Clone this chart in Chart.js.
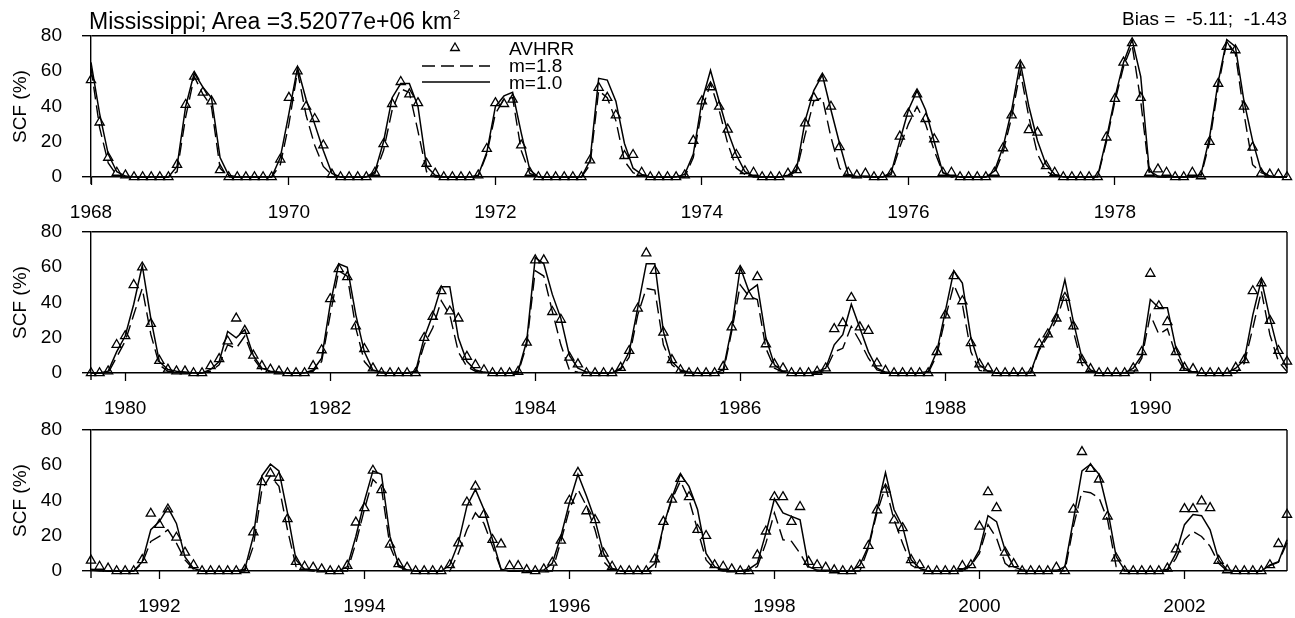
<!DOCTYPE html>
<html>
<head>
<meta charset="utf-8">
<script src="https://cdn.jsdelivr.net/npm/chart.js@4.4.1/dist/chart.umd.min.js"></script>
<style>
  body { margin: 0; background: #fff; }
  #fig { position: relative; width: 1295px; height: 618px; font-family: "Liberation Sans", Arial, sans-serif; color: #000; }
  .panel { position: absolute; left: 0; width: 1295px; height: 224px; }
  #title { position: absolute; left: 89px; top: 10px; font-size: 23px; line-height: 23px; white-space: pre; }
  #title sup { font-size: 13px; vertical-align: baseline; position: relative; top: -10px; margin-left: 1px; }
  #bias { position: absolute; right: 8px; top: 9px; font-size: 19px; line-height: 19px; white-space: pre; }
</style>
</head>
<body>
<div id="fig">
  <div class="panel" style="top:0"><canvas id="p1"></canvas></div>
  <div class="panel" style="top:196px"><canvas id="p2"></canvas></div>
  <div class="panel" style="top:394px"><canvas id="p3"></canvas></div>
  <div id="title">Mississippi; Area =3.52077e+06 km<sup>2</sup></div>
  <div id="bias">Bias =  -5.11;  -1.43</div>
</div>
<script>
// series names
const seriesNames = ['AVHRR', 'm=1.8', 'm=1.0'];

// Panel 1: Jan 1968 .. Aug 1979 (monthly)
const p1Avhrr = [55, 31, 11, 2.5, 1, 0, 0, 0, 0, 0,
  7, 41, 57, 48, 43, 4, 0, 0, 0, 0,
  0, 0, 10, 45, 60, 40, 33, 18, 1.5, 0,
  0, 0, 0, 2.5, 18.7, 41.5, 54, 47, 42, 7.6,
  2, 0, 0, 0, 0, 1, 16, 42, 41.5, 44,
  18, 2.5, 0, 0, 0, 0, 0, 0, 9.5, 50.7,
  45, 35, 12, 12.6, 2.5, 0, 0, 0, 0, 1,
  20.6, 43, 51, 40, 27, 12.6, 3.4, 2.5, 0, 0,
  0, 2, 4, 30.5, 45, 56, 40, 17, 2.5, 1,
  2, 0, 0, 2, 23, 36, 47, 33, 21.5, 2.5,
  2.5, 0, 0, 0, 0, 2.5, 16.4, 35, 63.4, 26.7,
  25.3, 6.3, 2.5, 0, 0, 0, 0, 0, 22.5, 44.4,
  65, 76, 45, 2.5, 4.4, 2.5, 0, 0, 2.5, 0.5,
  20, 53, 74, 72, 40, 16.8, 2, 1.5, 1.5, 0];
const p1M18 = [62, 28, 8, 1, 0, 0, 0, 0, 0, 0,
  3, 34, 57, 47, 40, 5, 0, 0, 0, 0,
  0, 0, 7, 30, 60, 35, 18, 6, 1, 0,
  0, 0, 0, 2, 15, 38, 50, 48, 26, 3,
  0, 0, 0, 0, 0, 0.5, 13, 36, 44, 45,
  15, 2, 0, 0, 0, 0, 0, 0, 7, 49,
  45, 32, 9, 2.5, 0.5, 0, 0, 0, 0, 0,
  11, 38, 53, 38, 19, 5, 1.5, 0, 0, 0,
  0, 0.5, 3.4, 24, 43, 45, 22.5, 5, 0.5, 0,
  0, 0, 0, 1.5, 17, 30, 40, 30, 15, 2.5,
  0, 0, 0, 0, 0, 2, 14, 34, 60, 34,
  13, 3.4, 0.5, 0, 0, 0, 0, 0, 19.6, 43,
  62.5, 75, 43, 1.5, 0, 0, 0, 0, 0, 0.5,
  19.6, 51, 77, 70, 36, 7, 2.5, 0.5, 0, 0];
const p1M10 = [65, 36, 13, 3, 0.5, 0, 0, 0, 0, 0,
  6, 40, 59, 51, 45, 11, 1, 0, 0, 0,
  0, 0, 11, 36, 62, 44, 30, 15, 2, 0,
  0, 0, 0, 3, 20, 45, 53, 53, 40, 6,
  1, 0, 0, 0, 0, 1, 14, 40, 46, 48,
  25, 4, 0, 0, 0, 0, 0, 0, 9.5, 56,
  55, 43, 19, 5, 1.5, 0, 0, 0, 0, 1.5,
  13, 43, 60.6, 43, 26, 12.6, 3, 0.5, 0, 0,
  0, 1, 4.4, 32, 49, 58, 38, 19, 1.5, 0.3,
  0.3, 0, 0, 2.5, 20.6, 38, 49, 38, 20, 2.5,
  0.5, 0, 0, 0, 0, 3.4, 17, 38, 65, 40,
  20.6, 7, 1.5, 0, 0, 0, 0, 0.5, 21.5, 45,
  65, 78, 57, 3.4, 0.5, 0, 0, 0, 0, 1.5,
  22.5, 54, 78, 74, 43, 20.6, 3.4, 0.5, 0, 0];
const p1Ticks = [0, 23, 47, 71, 95, 119];
const p1Years = ['1968', '1970', '1972', '1974', '1976', '1978'];

// Panel 2: Sep 1979 .. May 1991
const p2Avhrr = [0, 0, 1, 16, 21, 50, 60, 28, 7, 2,
  1, 1, 0, 0, 4, 8, 18, 31, 24, 10,
  4, 2, 1, 0, 0, 0, 4, 13, 42, 59,
  54.5, 26.5, 13.7, 2.7, 0, 0, 0, 0, 0, 20,
  32, 46.5, 35, 31, 9.3, 4.6, 1.7, 0, 0, 0,
  0.8, 17.3, 64, 64, 34.7, 30.3, 8.8, 5, 0, 0,
  0, 0, 3, 12.6, 36.6, 68, 58, 23, 7.4, 1.7,
  0, 0, 0, 0, 3.6, 26, 58, 43.6, 54.5, 16.4,
  5, 2.7, 0, 0, 0, 0.8, 2.7, 25, 28.4, 42.7,
  26, 24, 5.5, 1.3, 0, 0, 0, 0, 0, 12,
  32.8, 55, 40.8, 17, 5, 2.7, 0, 0, 0, 0,
  0, 16.4, 22, 31, 42.7, 26.5, 7.4, 2.3, 0, 0,
  0, 0, 2.7, 12, 56.4, 38, 29, 12, 3, 2.3,
  0, 0, 0, 0, 3, 7.4, 46.5, 51, 29.7, 12.6,
  6.5];
const p2M18 = [0, 0, 0, 9, 18, 33, 48, 22, 4.6, 1,
  0.5, 0, 0, 0, 1, 4.6, 16, 14, 21, 8.4,
  1.7, 0.5, 0, 0, 0, 0, 1, 6.5, 33, 58,
  55, 25.5, 6.5, 1, 0, 0, 0, 0, 0, 16,
  25.5, 41, 33, 12, 3.6, 1, 0, 0, 0, 0,
  0, 16, 58, 55, 35, 16, 1.7, 0.5, 0, 0,
  0, 0, 2, 9, 33, 48, 47, 16, 4.6, 1,
  0, 0, 0, 0, 0, 23.6, 50, 43.6, 41.7, 14,
  2.7, 0.5, 0, 0, 0, 0, 1.7, 12, 14, 26.5,
  18, 8.4, 1.7, 0.5, 0, 0, 0, 0, 0, 10,
  31, 50, 39, 12, 1.5, 0.5, 0, 0, 0, 0,
  0, 13, 20.8, 30, 44.6, 23.6, 4.6, 0.5, 0, 0,
  0, 0, 0, 8.4, 33, 22, 25, 10, 1.5, 0.5,
  0, 0, 0, 0, 0, 5.5, 25.5, 46.5, 21.7, 6.5,
  0.8];
const p2M10 = [0, 0, 1, 12, 21, 39, 61, 31, 6.5, 2,
  1, 0.5, 0, 0, 2, 6.5, 23.6, 20, 24.6, 10,
  2.7, 1, 0.5, 0, 0, 0, 1.7, 8.4, 39, 62,
  60, 33, 12, 1.7, 0.5, 0, 0, 0, 1, 20,
  33, 49, 49, 20, 6.5, 1.7, 0.5, 0, 0, 0,
  1, 18, 65.5, 62, 44.6, 31, 10, 2.7, 0.5, 0,
  0, 0, 2.7, 12, 37, 62, 62, 23.6, 6.5, 1.7,
  0.5, 0, 0, 0, 1.7, 25.5, 60, 46.5, 50, 20,
  4.6, 0.8, 0, 0, 0, 0.8, 2.7, 16, 21.7, 39,
  25.5, 12, 2.7, 0.5, 0, 0, 0, 0, 0.8, 12,
  35, 58, 51, 20, 4.6, 1, 0, 0, 0, 0,
  0.5, 14, 22.7, 33, 53, 29, 8.4, 1.7, 0, 0,
  0, 0, 2.7, 10, 41.7, 37, 37, 14, 2.7, 0.5,
  0, 0, 0, 0, 2.7, 7.4, 33, 53, 31, 12,
  2.7];
const p2Ticks = [4, 28, 52, 76, 100, 124];
const p2Years = ['1980', '1982', '1984', '1986', '1988', '1990'];

// Panel 3: May 1991 .. Jan 2003
const p3Avhrr = [6, 2.5, 1.5, 0, 0, 0, 6.3, 32.6, 26.3, 35,
  19, 10.5, 3.4, 0, 0, 0, 0, 0, 0.6, 22,
  50.5, 55.4, 53, 29.5, 5.3, 2.5, 2, 1, 0, 0,
  3, 27.6, 35.8, 57, 46, 15, 4, 2, 0, 0,
  0, 0, 3.4, 15.8, 39, 48, 32, 17.7, 15.2, 2.9,
  2.9, 0.6, 0, 1, 4.8, 17.3, 40, 55.8, 34, 29,
  10, 2.5, 0, 0, 0, 0, 6.7, 28, 40.6, 52.4,
  42, 23.4, 20, 3.4, 2.5, 1, 0, 0, 9, 22.5,
  42, 42, 28, 36.4, 5.3, 3.4, 2, 0.5, 0, 0,
  3.4, 14.3, 34.5, 46.3, 28.8, 24.4, 6.3, 3.4, 0, 0,
  0, 0, 2.9, 3.4, 25.3, 44.8, 35.8, 10.5, 4, 0,
  0, 0, 0, 2, 0, 34.9, 67.6, 58, 52, 31,
  7.2, 0, 0, 0, 0, 0, 1.5, 12.4, 35.2, 35.2,
  39.6, 35.8, 5.9, 0.5, 0, 0, 0, 0, 3.4, 15.4,
  32];
const p3M18 = [0.5, 0, 0, 0, 0, 0, 4.4, 16.8, 19.6, 23.4,
  15.8, 6.3, 1, 0, 0, 0, 0, 0, 0, 14,
  46, 54, 48, 23.4, 2.5, 0.5, 0, 0, 0, 0,
  0, 15.8, 34.9, 52, 47, 14, 2.5, 0.5, 0, 0,
  0, 0, 0, 10, 23.4, 33, 27, 14, 1, 0,
  0, 0, 0, 0, 0, 16.8, 34.9, 46.3, 36.8, 23.4,
  5.3, 0.5, 0, 0, 0, 0, 0, 25.3, 40.6, 51,
  40.6, 23.4, 6.3, 1, 0, 0, 0, 0, 2.5, 15.8,
  33, 17.7, 16.8, 10, 1.5, 0, 0, 0, 0, 0,
  0, 13, 33, 48, 29, 15.8, 3.4, 0.5, 0, 0,
  0, 0, 0, 3, 10, 26.3, 18.7, 4.4, 0.5, 0,
  0, 0, 0, 0, 0, 25.3, 45.3, 44.4, 41.5, 29,
  2.5, 0, 0, 0, 0, 0, 0, 7.2, 17.7, 22.5,
  19.6, 14, 4.4, 0, 0, 0, 0, 0, 3, 5,
  16];
const p3M10 = [1, 0.5, 0, 0, 0, 0, 5.3, 23.4, 28, 36,
  27, 8, 1.5, 0, 0, 0, 0, 0, 1, 19.6,
  54, 60.6, 56.8, 33, 6.3, 1, 0.5, 0, 0, 0,
  2.5, 19.6, 39.6, 56.8, 54.9, 19.6, 3.4, 0.5, 0, 0,
  0, 0, 3.4, 15.8, 36.8, 46.3, 34.9, 17.7, 1, 0,
  0, 0, 0, 0.5, 4.4, 19.6, 38.7, 54.9, 42.5, 29,
  10, 1.5, 0, 0, 0, 0, 4.4, 25.3, 41.5, 54.9,
  48, 34.9, 10, 2.5, 0.5, 0, 0, 1, 4.4, 21.5,
  41, 33, 31, 29, 2.5, 0.5, 0, 0, 0, 0,
  3.4, 14, 34.9, 55.8, 34.9, 25.3, 6.3, 1.5, 0, 0,
  0, 0, 1, 3.4, 12, 31.4, 28, 12, 2.5, 0.5,
  0, 0, 0, 0, 2.5, 29, 56.8, 60.6, 54.9, 34.9,
  8.2, 0.5, 0, 0, 0, 0, 1, 10, 26.3, 32,
  31.4, 23.4, 6.3, 0.5, 0, 0, 0, 0, 3.4, 5.3,
  17.7];
const p3Ticks = [8, 32, 56, 80, 104, 128];
const p3Years = ['1992', '1994', '1996', '1998', '2000', '2002'];

const yTicks = [0, 20, 40, 60, 80];

Chart.defaults.font.family = '"Liberation Sans", Arial, sans-serif';
Chart.defaults.color = '#000';

// right border + small stub of the y axis below zero
const frame = {
  id: 'frame',
  afterDraw(chart) {
    const { ctx, chartArea: a } = chart;
    ctx.save();
    ctx.strokeStyle = '#000';
    ctx.lineWidth = 1.4;
    ctx.beginPath();
    ctx.moveTo(a.right, a.top);
    ctx.lineTo(a.right, a.bottom);
    ctx.moveTo(a.left, a.bottom);
    ctx.lineTo(a.left, a.bottom + 7);
    ctx.stroke();
    ctx.restore();
  }
};

// legend drawn inside the first panel
const legendBox = {
  id: 'legendBox',
  afterDraw(chart) {
    const ctx = chart.ctx;
    const ds = chart.data.datasets;
    ctx.save();
    ctx.strokeStyle = '#000';
    // triangle
    const r = 5, tx = 455, ty = 48;
    ctx.lineWidth = ds[0].pointBorderWidth;
    ctx.beginPath();
    for (let k = 0; k < 3; k++) {
      const ang = k * 2 * Math.PI / 3;
      const px = tx + Math.sin(ang) * r, py = ty - Math.cos(ang) * r;
      k === 0 ? ctx.moveTo(px, py) : ctx.lineTo(px, py);
    }
    ctx.closePath();
    ctx.stroke();
    // dashed
    ctx.lineWidth = ds[1].borderWidth;
    ctx.setLineDash(ds[1].borderDash);
    ctx.beginPath(); ctx.moveTo(422, 66); ctx.lineTo(490, 66); ctx.stroke();
    // solid
    ctx.lineWidth = ds[2].borderWidth;
    ctx.setLineDash([]);
    ctx.beginPath(); ctx.moveTo(422, 82); ctx.lineTo(490, 82); ctx.stroke();
    // labels
    ctx.fillStyle = '#000';
    ctx.font = '19px "Liberation Sans", Arial, sans-serif';
    ctx.textBaseline = 'alphabetic';
    ctx.fillText(ds[0].label, 509, 55);
    ctx.fillText(ds[1].label, 509, 72);
    ctx.fillText(ds[2].label, 509, 89);
    ctx.restore();
  }
};

const blackAt = vals => c => (c.tick && vals.includes(c.tick.value)) ? '#000' : 'rgba(0,0,0,0)';

function makePanel(id, avhrr, m18, m10, tickAt, years, withLegend) {
  const pts = vals => vals.map((v, i) => ({ x: i, y: v }));
  return new Chart(document.getElementById(id), {
    type: 'line',
    data: {
      datasets: [
        { label: seriesNames[0], data: pts(avhrr), showLine: false, pointStyle: 'triangle',
          pointRadius: 5.3, pointBorderWidth: 1.3, pointBorderColor: '#000',
          pointBackgroundColor: 'rgba(0,0,0,0)', clip: false },
        { label: seriesNames[1], data: pts(m18), borderColor: '#000', borderWidth: 1.4,
          borderDash: [13, 6], pointRadius: 0, tension: 0, clip: false },
        { label: seriesNames[2], data: pts(m10), borderColor: '#000', borderWidth: 1.5,
          pointRadius: 0, tension: 0, clip: false }
      ]
    },
    options: {
      responsive: true,
      maintainAspectRatio: false,
      animation: false,
      events: [],
      layout: { padding: { top: 36, right: 8, left: 0, bottom: 0 } },
      plugins: { legend: { display: false }, tooltip: { enabled: false } },
      scales: {
        x: {
          type: 'linear',
          min: 0,
          max: avhrr.length - 1,
          afterBuildTicks: s => { s.ticks = tickAt.map(v => ({ value: v })); },
          afterFit: s => { s.height = 47; },
          border: { display: false },
          grid: { drawOnChartArea: false, tickLength: 8, tickColor: '#000', tickWidth: 1.3 },
          ticks: {
            autoSkip: false, maxRotation: 0, padding: 16,
            font: { size: 19 },
            callback: v => years[tickAt.indexOf(v)]
          }
        },
        y: {
          min: 0,
          max: 80,
          afterBuildTicks: s => { s.ticks = yTicks.map(v => ({ value: v })); },
          afterFit: s => { s.width = 91; },
          border: { display: true, color: '#000', width: 1.4 },
          grid: { color: blackAt([0, 80]), tickColor: blackAt([0, 80]), lineWidth: 1.4, tickLength: 9 },
          ticks: { padding: 20, font: { size: 19 } },
          title: { display: true, text: 'SCF (%)', font: { size: 19 }, padding: { top: 9 } }
        }
      }
    },
    plugins: withLegend ? [frame, legendBox] : [frame]
  });
}

makePanel('p1', p1Avhrr, p1M18, p1M10, p1Ticks, p1Years, true);
makePanel('p2', p2Avhrr, p2M18, p2M10, p2Ticks, p2Years, false);
makePanel('p3', p3Avhrr, p3M18, p3M10, p3Ticks, p3Years, false);
</script>
</body>
</html>
